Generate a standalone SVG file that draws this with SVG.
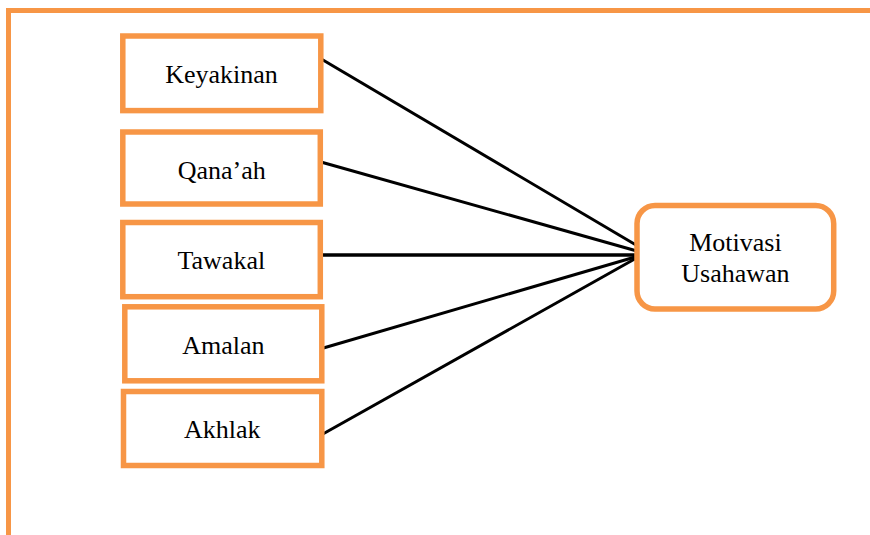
<svg xmlns="http://www.w3.org/2000/svg" width="870" height="535" viewBox="0 0 870 535">
<style>
.box{fill:#fff;stroke:#F79646;stroke-width:5.5}
.frame{fill:none;stroke:#F79646;stroke-width:5}
.lbl{font-family:"Liberation Serif","Times New Roman",serif;font-size:26px;fill:#000;text-anchor:middle}
.conn line{stroke:#000;stroke-width:3;stroke-linecap:butt}
</style>
<rect width="870" height="535" fill="#fff"/>
<path class="frame" d="M8.5,535 V10.5 H870"/>
<g id="connectors" class="conn">
<line x1="321.7" y1="59.3" x2="636" y2="245"/>
<line x1="320" y1="161.7" x2="636" y2="250.7"/>
<line x1="322.7" y1="255" x2="636" y2="255" style="stroke-width:3.4"/>
<line x1="320" y1="349" x2="636" y2="256.7"/>
<line x1="319.3" y1="436" x2="636" y2="258.3"/>
</g>
<g id="keyakinan">
<rect class="box" x="122.8" y="36" width="198" height="74.6"/>
<text class="lbl" x="221.5" y="83.3">Keyakinan</text>
</g>
<g id="qanaah">
<rect class="box" x="122.8" y="132" width="197.5" height="72"/>
<text class="lbl" x="221.7" y="179">Qana’ah</text>
</g>
<g id="tawakal">
<rect class="box" x="122.8" y="222.5" width="197.5" height="74.2"/>
<text class="lbl" x="221.3" y="269">Tawakal</text>
</g>
<g id="amalan">
<rect class="box" x="124.8" y="306.8" width="197" height="74"/>
<text class="lbl" x="223.3" y="354">Amalan</text>
</g>
<g id="akhlak">
<rect class="box" x="123.5" y="391.5" width="198.3" height="74"/>
<text class="lbl" x="222.2" y="437.7">Akhlak</text>
</g>
<g id="motivasi">
<rect class="box" x="637" y="205.5" width="196.7" height="103.5" rx="18" ry="18"/>
<text class="lbl" x="735.4" y="251">Motivasi</text>
<text class="lbl" x="735.4" y="281.7">Usahawan</text>
</g>
</svg>
